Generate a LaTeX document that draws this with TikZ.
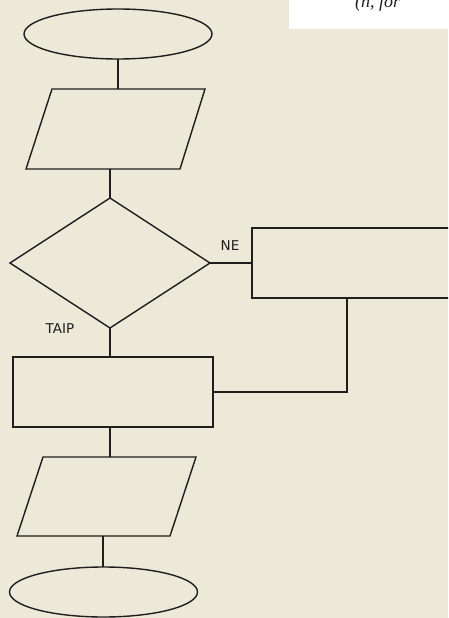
\documentclass[tikz,border=0pt]{standalone}
\usepackage{fontspec}
\usetikzlibrary{shapes.geometric}
\newfontfamily\labfont{DejaVu Sans}
\newfontfamily\serfont{Liberation Serif}
\definecolor{bgxp}{HTML}{ECE9D8}
\definecolor{ink}{HTML}{1E1E1E}
\tikzset{
  fc/.style={draw=ink, line width=1.4pt, inner sep=0pt, outer sep=0pt},
  term/.style={fc, ellipse, minimum width=188pt, minimum height=50pt},
  proc/.style={fc, rectangle, minimum width=200pt, minimum height=70pt},
  dec/.style={fc, diamond, minimum width=200pt, minimum height=130pt},
  conn/.style={draw=ink, line width=1.4pt},
  iopath/.style={draw=ink, line width=1.4pt, line join=miter},
  lab/.style={font=\labfont\fontsize{13.5}{15}\selectfont, text=ink, inner sep=0pt}
}
\begin{document}
\begin{tikzpicture}[x=1pt,y=-1pt]
\useasboundingbox (0,0) rectangle (448,618);
\fill[bgxp] (0,0) rectangle (448,618);
\clip (0,0) rectangle (448,618);
% white note box at top right
\fill[white] (289,-5) rectangle (452,29);
\node[anchor=base west, inner sep=0pt, font=\serfont\itshape\fontsize{18}{20}\selectfont, text=ink] (note) at (355,8) {(n, for};
% shapes
\node[term] (e1) at (118,34) {};
\draw[iopath] (52,89) -- (205,89) -- (180,169) -- (26,169) -- cycle;
\coordinate (p1n) at (118,89);
\coordinate (p1s) at (110,169);
\node[dec] (d) at (110,263) {};
\node[proc, minimum width=220pt] (r2) at (362,263) {};
\node[proc] (r1) at (113,392) {};
\draw[iopath] (43,457) -- (196,457) -- (170,536) -- (17,536) -- cycle;
\coordinate (p2n) at (110,457);
\coordinate (p2s) at (103,536);
\node[term] (e2) at (103.5,592) {};
% labels
\node[lab] (ne) at (230,246) {NE};
\node[lab] (taip) at (60,329) {TAIP};
% connectors
\coordinate (loopx) at (347,0);
\draw[conn] (e1.south) -- (p1n);
\draw[conn] (p1s) -- (d.north);
\draw[conn] (d.east) -- (r2.west);
\draw[conn] (d.south) -- (d.south |- r1.north);
\draw[conn] (r2.south -| loopx) |- (r1.east);
\draw[conn] (r1.south -| d.south) -- (p2n);
\draw[conn] (p2s) -- (p2s |- e2.north);
\end{tikzpicture}
\end{document}
